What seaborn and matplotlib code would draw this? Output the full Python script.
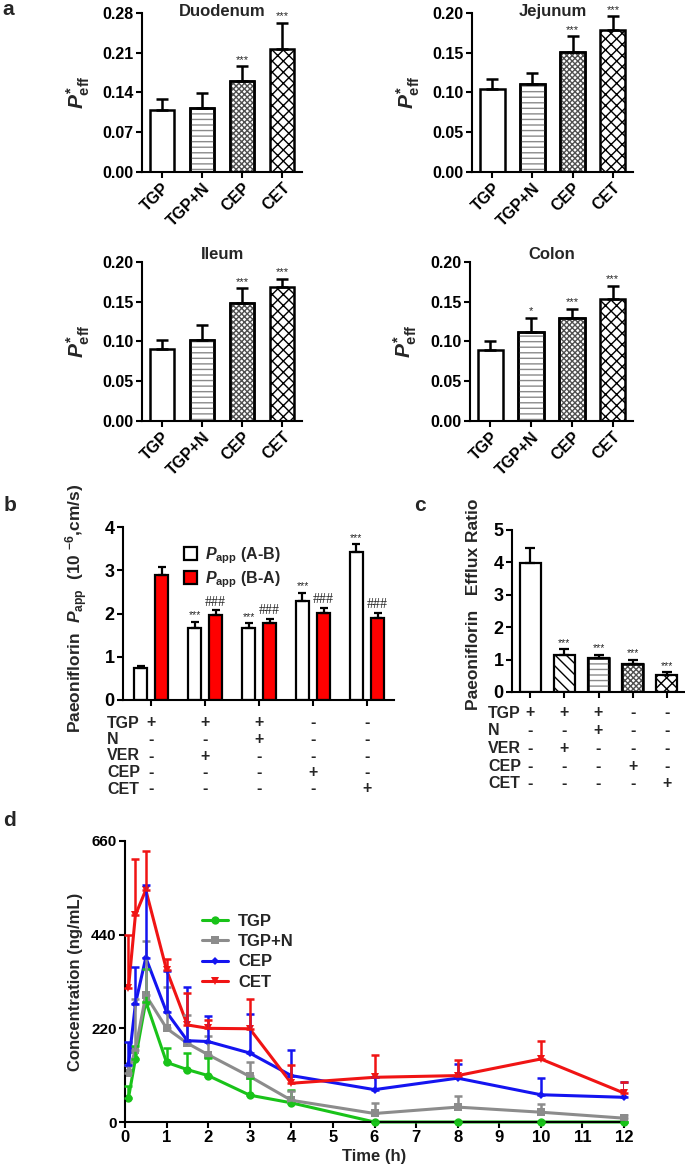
import numpy as np
import pandas as pd
import matplotlib
matplotlib.use('Agg')
import matplotlib.pyplot as plt
import matplotlib.transforms as mtransforms
from matplotlib.patches import Rectangle, Patch
import seaborn as sns

# ---- data ----
groups_a = ['TGP', 'TGP+N', 'CEP', 'CET']
duodenum_mean = [0.109, 0.113, 0.161, 0.217]
duodenum_sd = [0.019, 0.026, 0.025, 0.046]
duodenum_sig = ['', '', '***', '***']
jejunum_mean = [0.104, 0.111, 0.151, 0.179]
jejunum_sd = [0.013, 0.013, 0.020, 0.017]
jejunum_sig = ['', '', '***', '***']
ileum_mean = [0.091, 0.102, 0.148, 0.168]
ileum_sd = [0.011, 0.019, 0.019, 0.011]
ileum_sig = ['', '', '***', '***']
colon_mean = [0.089, 0.112, 0.130, 0.153]
colon_sd = [0.012, 0.018, 0.011, 0.017]
colon_sig = ['', '*', '***', '***']

groups_bc = ['TGP', 'TGP+VER', 'TGP+N', 'CEP', 'CET']
papp_ab = [0.73, 1.66, 1.67, 2.29, 3.42]
papp_ab_sd = [0.06, 0.15, 0.10, 0.19, 0.18]
papp_ab_sig = ['', '***', '***', '***', '***']
papp_ba = [2.90, 1.97, 1.79, 2.02, 1.90]
papp_ba_sd = [0.17, 0.10, 0.09, 0.11, 0.12]
papp_ba_sig = ['', '###', '###', '###', '###']

efflux = [3.97, 1.14, 1.04, 0.85, 0.52]
efflux_sd = [0.48, 0.18, 0.11, 0.14, 0.09]
efflux_sig = ['', '***', '***', '***', '***']

table_rows = ['TGP', 'N', 'VER', 'CEP', 'CET']
table_marks = [['+', '+', '+', '-', '-'],
               ['-', '-', '+', '-', '-'],
               ['-', '+', '-', '-', '-'],
               ['-', '-', '-', '+', '-'],
               ['-', '-', '-', '-', '+']]

times = [0.083, 0.25, 0.5, 1, 1.5, 2, 3, 4, 6, 8, 10, 12]
tgp_conc = [56, 148, 283, 140, 123, 109, 63, 45, 0, 0, 0, 0]
tgp_sd = [28, 31, 76, 33, 39, 41, 40, 31, 0, 0, 0, 0]
tgpn_conc = [115, 170, 298, 220, 185, 158, 107, 51, 20, 35, 23, 9]
tgpn_sd = [20, 118, 127, 96, 67, 43, 34, 21, 25, 27, 19, 8]
cep_conc = [133, 277, 386, 258, 191, 189, 162, 109, 76, 103, 64, 58]
cep_sd = [55, 86, 170, 97, 125, 61, 92, 60, 29, 33, 39, 36]
cet_conc = [314, 486, 545, 357, 228, 220, 219, 91, 105, 109, 148, 68]
cet_sd = [125, 131, 92, 27, 74, 20, 69, 42, 52, 37, 43, 27]
pk_groups = ['TGP', 'TGP+N', 'CEP', 'CET']
pk_colors = {'TGP': '#19c319', 'TGP+N': '#8c8c8c', 'CEP': '#1414f0', 'CET': '#f01414'}
pk_markers = {'TGP': 'o', 'TGP+N': 's', 'CEP': 'D', 'CET': 'v'}

# ---- style ----
sns.set_theme(style='ticks')
plt.rcParams['font.family'] = ['Liberation Sans', 'DejaVu Sans']
plt.rcParams['font.weight'] = 'bold'
plt.rcParams['axes.labelweight'] = 'bold'
plt.rcParams['mathtext.fontset'] = 'custom'
plt.rcParams['mathtext.rm'] = 'Liberation Sans:bold'
plt.rcParams['mathtext.bf'] = 'Liberation Sans:bold'
plt.rcParams['mathtext.it'] = 'Liberation Sans:italic:bold'
plt.rcParams['hatch.linewidth'] = 1.0

W, H = 685, 1173
fig = plt.figure(figsize=(W / 100, H / 100), dpi=100)


def px_axes(x0, y0, x1, y1):
    ax = fig.add_axes([x0 / W, 1 - y1 / H, (x1 - x0) / W, (y1 - y0) / H])
    return ax


def style_axes(ax, labelsize):
    sns.despine(ax=ax)
    for s in ['left', 'bottom']:
        ax.spines[s].set_linewidth(1.5)
        ax.spines[s].set_color('black')
    ax.tick_params(width=1.5, length=4, color='black', labelsize=labelsize,
                   labelcolor='black', pad=2)


def overlay_hatch(ax, p, hatch, color):
    xy = (p.get_x(), p.get_y())
    w, h = p.get_width(), p.get_height()
    ax.add_patch(Rectangle(xy, w, h, fill=False, hatch=hatch, edgecolor=color,
                           linewidth=0, zorder=2.1))
    ax.add_patch(Rectangle(xy, w, h, fill=False, edgecolor='black',
                           linewidth=1.8, zorder=2.2))


def upper_err(ax, x, y, sd, color='black', lw=1.8, cap=4):
    ax.errorbar(x, y, yerr=[np.zeros(len(sd)), sd], fmt='none', ecolor=color,
                elinewidth=lw, capsize=cap, capthick=lw, zorder=3)


def stars(ax, x, y, sd, sig, size=8, family=None):
    for xi, yi, si, t in zip(x, y, sd, sig):
        if t:
            kw = {'family': family} if family else {}
            ax.annotate(t, (xi, yi + si), xytext=(0, 1), textcoords='offset points',
                        ha='center', va='bottom', fontsize=size, fontweight='normal', **kw)


def tissue_panel(box, title, title_dy, means, sds, sig, yticks):
    ax = px_axes(*box)
    df = pd.DataFrame({'group': groups_a, 'peff': means})
    sns.barplot(data=df, x='group', y='peff', color='white', saturation=1,
                edgecolor='black', linewidth=1.8, width=0.62, errorbar=None, ax=ax)
    bars = list(ax.patches)
    overlay_hatch(ax, bars[1], '---', '#8a8a8a')
    overlay_hatch(ax, bars[2], 'xxxxxx', '#505050')
    bars[3].set_hatch('xxx')
    pos = np.arange(len(means))
    upper_err(ax, pos, means, sds)
    stars(ax, pos, means, sds, sig)
    ax.set_xlim(-0.5, 3.5)
    ax.set_ylim(yticks[0], yticks[-1])
    ax.set_yticks(yticks)
    ax.set_yticklabels([f'{t:.2f}' for t in yticks])
    ax.set_xlabel('')
    ax.set_ylabel(r'$P^{*}_{\mathrm{eff}}$', fontsize=15)
    ax.yaxis.set_label_coords(-0.31, 0.5)
    style_axes(ax, 11.5)
    plt.setp(ax.get_xticklabels(), rotation=45, ha='right', rotation_mode='anchor')
    ax.text(0.5, 1 + title_dy, title, transform=ax.transAxes, ha='center',
            va='center', fontsize=12, fontweight='bold')
    return ax


tissue_panel((142, 13, 302, 172), 'Duodenum', 0.012, duodenum_mean, duodenum_sd,
             duodenum_sig, [0.0, 0.07, 0.14, 0.21, 0.28])
tissue_panel((472, 13, 633, 172), 'Jejunum', 0.012, jejunum_mean, jejunum_sd,
             jejunum_sig, [0.0, 0.05, 0.10, 0.15, 0.20])
tissue_panel((142, 262, 302, 421), 'Ileum', 0.045, ileum_mean, ileum_sd,
             ileum_sig, [0.0, 0.05, 0.10, 0.15, 0.20])
tissue_panel((470, 262, 633, 421), 'Colon', 0.045, colon_mean, colon_sd,
             colon_sig, [0.0, 0.05, 0.10, 0.15, 0.20])


def draw_table(ax, label_x, row_y, step):
    trans = mtransforms.blended_transform_factory(ax.transData, fig.transFigure)
    for r, (name, marks) in enumerate(zip(table_rows, table_marks)):
        yf = 1 - (row_y + r * step) / H
        fig.text(label_x / W, yf, name, ha='left', va='center', fontsize=11.5,
                 fontweight='bold')
        for j, m in enumerate(marks):
            ax.text(j, yf, m, transform=trans, ha='center', va='center',
                    fontsize=11.5, fontweight='bold')


# ---- panel b ----
axb = px_axes(123, 527, 394, 700)
df_b = pd.DataFrame({
    'group': groups_bc * 2,
    'dir': ['A-B'] * 5 + ['B-A'] * 5,
    'papp': papp_ab + papp_ba,
})
sns.barplot(data=df_b, x='group', y='papp', hue='dir',
            palette={'A-B': 'white', 'B-A': '#ff0000'}, saturation=1,
            edgecolor='black', linewidth=1.6, width=0.78, gap=0.41,
            errorbar=None, legend=False, ax=axb)
pos = np.arange(5)
upper_err(axb, pos - 0.195, papp_ab, papp_ab_sd, lw=1.6, cap=3)
upper_err(axb, pos + 0.195, papp_ba, papp_ba_sd, lw=1.6, cap=3)
stars(axb, pos - 0.195, papp_ab, papp_ab_sd, papp_ab_sig, size=7.5)
stars(axb, pos + 0.195, papp_ba, papp_ba_sd, papp_ba_sig, size=10,
      family='Liberation Serif')
axb.set_xlim(-0.52, 4.5)
axb.set_ylim(0, 4)
axb.set_yticks([0, 1, 2, 3, 4])
axb.set_xticklabels([])
axb.set_xlabel('')
axb.set_ylabel(r'Paeoniflorin  $P_{\mathrm{app}}$  (10 $^{\mathrm{-6}}$,cm/s)', fontsize=12.5)
axb.yaxis.set_label_coords(-0.12, 0.53)
style_axes(axb, 13)
leg_b = [Patch(facecolor='white', edgecolor='black', linewidth=1.6),
         Patch(facecolor='#ff0000', edgecolor='black', linewidth=1.6)]
axb.legend(leg_b, [r'$P_{\mathrm{app}}$ (A-B)', r'$P_{\mathrm{app}}$ (B-A)'],
           loc='upper left', bbox_to_anchor=(0.2, 0.93), frameon=False,
           fontsize=11.5, handlelength=0.85, handleheight=0.85, handletextpad=0.5,
           labelspacing=0.2, borderaxespad=0)
draw_table(axb, 107, 723, 16.5)

# ---- panel c ----
axc = px_axes(512, 530, 685, 692)
df_c = pd.DataFrame({'group': groups_bc, 'ratio': efflux})
sns.barplot(data=df_c, x='group', y='ratio', color='white', saturation=1,
            edgecolor='black', linewidth=1.6, width=0.61, errorbar=None, ax=axc)
cbars = list(axc.patches)
cbars[1].set_hatch('\\\\\\')
overlay_hatch(axc, cbars[2], '---', '#8a8a8a')
overlay_hatch(axc, cbars[3], 'xxxxxx', '#505050')
cbars[4].set_hatch('xxx')
upper_err(axc, pos, efflux, efflux_sd, lw=1.6, cap=3.5)
stars(axc, pos, efflux, efflux_sd, efflux_sig, size=7.5)
axc.set_xlim(-0.53, 4.53)
axc.set_ylim(0, 5)
axc.set_yticks([0, 1, 2, 3, 4, 5])
axc.set_xticklabels([])
axc.set_xlabel('')
axc.set_ylabel('Paeoniflorin   Efflux Ratio', fontsize=12.5)
axc.yaxis.set_label_coords(-0.18, 0.54)
style_axes(axc, 13)
draw_table(axc, 488, 713, 17.7)

# ---- panel d ----
axd = px_axes(125, 841, 624, 1122)
pk = pd.DataFrame({
    'time': times * 4,
    'conc': tgp_conc + tgpn_conc + cep_conc + cet_conc,
    'sd': tgp_sd + tgpn_sd + cep_sd + cet_sd,
    'group': sum([[g] * len(times) for g in pk_groups], []),
})
for g in pk_groups:
    sub = pk[pk['group'] == g]
    upper_err(axd, sub['time'].values, sub['conc'].values, sub['sd'].values,
              color=pk_colors[g], lw=1.8, cap=3)
sns.lineplot(data=pk, x='time', y='conc', hue='group', style='group',
             hue_order=pk_groups, style_order=pk_groups, palette=pk_colors,
             markers=pk_markers, dashes=False, linewidth=2.2, markersize=6,
             markeredgewidth=0, ax=axd)
for ln in axd.lines:
    ln.set_clip_on(False)
    if ln.get_marker() == 'D':
        ln.set_markersize(4.5)
h, l = axd.get_legend_handles_labels()
for hd in h:
    if hd.get_marker() == 'D':
        hd.set_markersize(4.5)
axd.legend(h, l, loc='upper left', bbox_to_anchor=(0.14, 0.765), frameon=False,
           fontsize=12, handlelength=1.6, handletextpad=0.6, labelspacing=0.32,
           borderaxespad=0)
axd.set_xlim(0, 12)
axd.set_ylim(0, 660)
axd.set_xticks(range(13))
axd.set_yticks([0, 220, 440, 660])
axd.set_xlabel('Time (h)', fontsize=12, labelpad=3)
axd.set_ylabel('Concentration (ng/mL)', fontsize=12)
axd.yaxis.set_label_coords(-0.085, 0.5)
style_axes(axd, 11)
axd.tick_params(axis='x', labelsize=12)

# ---- panel letters ----
for letter, x, y in [('a', 2, 0), ('b', 4, 496), ('c', 414, 496), ('d', 3, 811)]:
    fig.text(x / W, 1 - y / H, letter, ha='left', va='top', fontsize=15,
             fontweight='bold')

fig.savefig('out.png', dpi=100)
